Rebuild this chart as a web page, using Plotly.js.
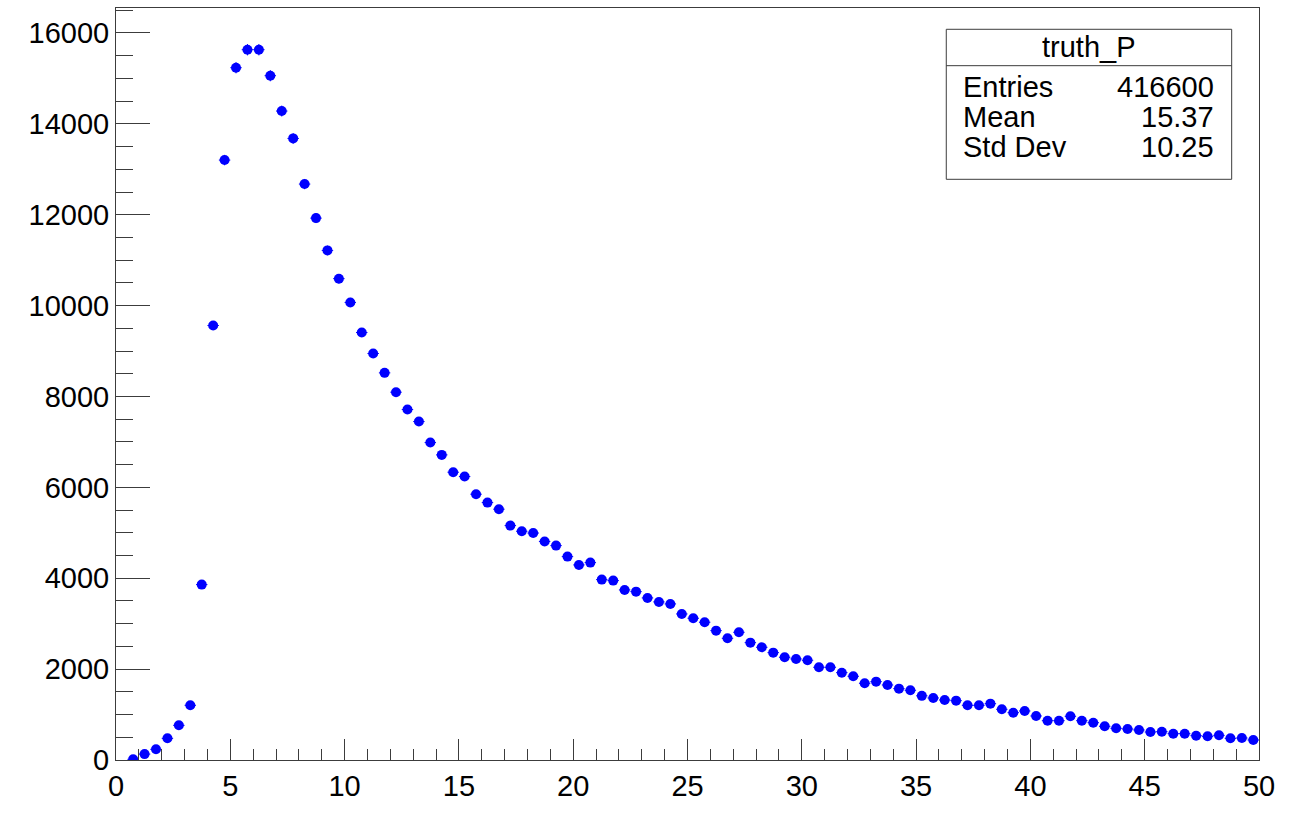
<!DOCTYPE html>
<html>
<head>
<meta charset="utf-8">
<script src="https://cdn.plot.ly/plotly-3.0.1.min.js"></script>
<style>
  html, body { margin: 0; padding: 0; background: #fff; }
  #chart { width: 1302px; height: 818px; }
</style>
</head>
<body>
<div id="chart"></div>
<script>
// truth_P: 100 bins on [0, 50], bin width 0.5; filled bins drawn at their centres
const binCenters = [
  0.75, 1.25, 1.75, 2.25, 2.75, 3.25, 3.75, 4.25, 4.75, 5.25,
  5.75, 6.25, 6.75, 7.25, 7.75, 8.25, 8.75, 9.25, 9.75, 10.25,
  10.75, 11.25, 11.75, 12.25, 12.75, 13.25, 13.75, 14.25, 14.75, 15.25,
  15.75, 16.25, 16.75, 17.25, 17.75, 18.25, 18.75, 19.25, 19.75, 20.25,
  20.75, 21.25, 21.75, 22.25, 22.75, 23.25, 23.75, 24.25, 24.75, 25.25,
  25.75, 26.25, 26.75, 27.25, 27.75, 28.25, 28.75, 29.25, 29.75, 30.25,
  30.75, 31.25, 31.75, 32.25, 32.75, 33.25, 33.75, 34.25, 34.75, 35.25,
  35.75, 36.25, 36.75, 37.25, 37.75, 38.25, 38.75, 39.25, 39.75, 40.25,
  40.75, 41.25, 41.75, 42.25, 42.75, 43.25, 43.75, 44.25, 44.75, 45.25,
  45.75, 46.25, 46.75, 47.25, 47.75, 48.25, 48.75, 49.25, 49.75
];
const binHalfWidth = 0.25;

const counts = [
  15, 130, 235, 477, 763, 1204, 3860, 9562, 13203, 15236,
  15632, 15632, 15060, 14282, 13680, 12675, 11926, 11215, 10593, 10070,
  9408, 8946, 8520, 8095, 7713, 7448, 6986, 6715, 6334, 6238,
  5850, 5665, 5520, 5159, 5035, 4995, 4810, 4718, 4476, 4293,
  4344, 3970, 3948, 3743, 3705, 3567, 3479, 3435, 3214, 3120,
  3032, 2847, 2679, 2811, 2583, 2481, 2363, 2261, 2224, 2195,
  2041, 2041, 1922, 1843, 1689, 1724, 1651, 1570, 1535, 1412,
  1365, 1321, 1306, 1204, 1204, 1240, 1116, 1041, 1079, 969,
  865, 865, 962, 865, 821, 742, 698, 683, 661, 616,
  623, 579, 579, 535, 521, 543, 477, 484, 440
];

// statistics box
const statTitle = "truth_P";
const statLabels = ["Entries", "Mean", "Std Dev"];
const statValues = ["416600", "15.37", "10.25"];

const xTickVals = [0, 5, 10, 15, 20, 25, 30, 35, 40, 45, 50];
const yTickVals = [0, 2000, 4000, 6000, 8000, 10000, 12000, 14000, 16000];

const FONT = "'Liberation Sans', Arial, Helvetica, sans-serif";
const AXIS_COLOR = "#3c3c3c";
const BLUE = "#0000ff";

const trace = {
  type: "scatter",
  mode: "markers",
  x: binCenters,
  y: counts,
  marker: { color: BLUE, size: 10, symbol: "circle", line: { width: 0 } },
  error_x: { type: "constant", value: binHalfWidth, color: BLUE, thickness: 1, width: 0 },
  error_y: { type: "data", array: counts.map(Math.sqrt), color: BLUE, thickness: 1, width: 0 },
  hoverinfo: "x+y"
};

// stats box geometry in paper coordinates
const bx0 = 0.7264, bx1 = 0.9761;
const byTop = 0.9717, bySep = 0.9233, byBot = 0.7722;
const rowY = [0.8953, 0.8555, 0.8156];
const labelX = 0.7393, valueX = 0.9621;

const shapes = [
  { type: "rect", xref: "paper", yref: "paper", x0: bx0, x1: bx1, y0: byBot, y1: byTop,
    line: { color: AXIS_COLOR, width: 1 }, fillcolor: "#ffffff", layer: "above" },
  { type: "line", xref: "paper", yref: "paper", x0: bx0, x1: bx1, y0: bySep, y1: bySep,
    line: { color: AXIS_COLOR, width: 1 }, layer: "above" }
];

const statFont = { family: FONT, size: 29, color: "#000" };
const annotations = [
  { xref: "paper", yref: "paper", x: (bx0 + bx1) / 2, y: (byTop + bySep) / 2,
    text: statTitle, showarrow: false, xanchor: "center", yanchor: "middle", font: statFont }
];
statLabels.forEach((lab, i) => {
  annotations.push({ xref: "paper", yref: "paper", x: labelX, y: rowY[i], text: lab,
    showarrow: false, xanchor: "left", yanchor: "middle", font: statFont });
  annotations.push({ xref: "paper", yref: "paper", x: valueX, y: rowY[i], text: statValues[i],
    showarrow: false, xanchor: "right", yanchor: "middle", font: statFont });
});

const tickFont = { family: FONT, size: 29, color: "#000" };

const layout = {
  width: 1302,
  height: 818,
  margin: { l: 116, r: 43, t: 8, b: 58, pad: 0 },
  paper_bgcolor: "#ffffff",
  plot_bgcolor: "#ffffff",
  showlegend: false,
  font: { family: FONT, size: 29, color: "#000" },
  xaxis: {
    range: [0, 50],
    tickmode: "array",
    tickvals: xTickVals,
    ticktext: xTickVals.map(String),
    ticks: "inside",
    ticklen: 21,
    tickwidth: 1,
    tickcolor: AXIS_COLOR,
    minor: { dtick: 1, ticks: "inside", ticklen: 11, tickwidth: 1, tickcolor: AXIS_COLOR, showgrid: false },
    showline: true,
    linecolor: AXIS_COLOR,
    linewidth: 1,
    mirror: true,
    showgrid: false,
    zeroline: false,
    tickfont: tickFont,
    ticklabelstandoff: 0
  },
  yaxis: {
    range: [0, 16550],
    tickmode: "array",
    tickvals: yTickVals,
    ticktext: yTickVals.map(String),
    ticks: "inside",
    ticklen: 34,
    tickwidth: 1,
    tickcolor: AXIS_COLOR,
    minor: { dtick: 500, ticks: "inside", ticklen: 17, tickwidth: 1, tickcolor: AXIS_COLOR, showgrid: false },
    showline: true,
    linecolor: AXIS_COLOR,
    linewidth: 1,
    mirror: true,
    showgrid: false,
    zeroline: false,
    tickfont: tickFont,
    ticklabelstandoff: 0
  },
  shapes: shapes,
  annotations: annotations
};

Plotly.newPlot("chart", [trace], layout, { displayModeBar: false, staticPlot: true });
</script>
</body>
</html>
